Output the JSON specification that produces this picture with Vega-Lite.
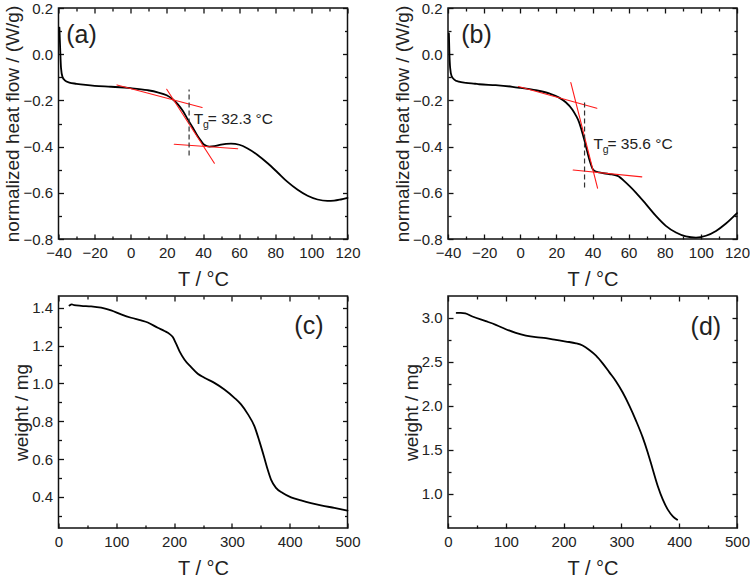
{
  "$schema": "https://vega.github.io/schema/vega-lite/v6.json",
  "background": "white",
  "padding": {"left": 2.5, "top": 0, "right": 0, "bottom": 0},
  "datasets": {
    "dsc_a": [
      {"T": -39.5, "q": 0.115}, {"T": -39.1, "q": 0.03}, {"T": -38.6, "q": -0.06}, {"T": -37.8, "q": -0.098},
      {"T": -36.5, "q": -0.113}, {"T": -34, "q": -0.123}, {"T": -30, "q": -0.128}, {"T": -25, "q": -0.133},
      {"T": -20, "q": -0.137}, {"T": -10.9, "q": -0.141}, {"T": 0, "q": -0.147}, {"T": 9.4, "q": -0.156},
      {"T": 14.9, "q": -0.165}, {"T": 19.9, "q": -0.178}, {"T": 23.2, "q": -0.195}, {"T": 26, "q": -0.216},
      {"T": 28.8, "q": -0.245}, {"T": 31.5, "q": -0.281}, {"T": 34.3, "q": -0.317}, {"T": 37, "q": -0.354},
      {"T": 38.9, "q": -0.375}, {"T": 40.7, "q": -0.392}, {"T": 43.5, "q": -0.4}, {"T": 46.3, "q": -0.398},
      {"T": 50, "q": -0.391}, {"T": 55.5, "q": -0.387}, {"T": 60.1, "q": -0.392}, {"T": 64.7, "q": -0.408},
      {"T": 70.2, "q": -0.436}, {"T": 75.8, "q": -0.472}, {"T": 81.3, "q": -0.512}, {"T": 86.8, "q": -0.553},
      {"T": 92.4, "q": -0.587}, {"T": 97.9, "q": -0.613}, {"T": 103.4, "q": -0.629}, {"T": 108.9, "q": -0.635},
      {"T": 112.6, "q": -0.634}, {"T": 116.3, "q": -0.629}, {"T": 120, "q": -0.622}
    ],
    "dsc_b": [
      {"T": -39.5, "q": 0.09}, {"T": -39.2, "q": 0.0}, {"T": -38.8, "q": -0.06}, {"T": -38.0, "q": -0.095},
      {"T": -36.5, "q": -0.11}, {"T": -34, "q": -0.119}, {"T": -30, "q": -0.124}, {"T": -25, "q": -0.128},
      {"T": -22.8, "q": -0.13}, {"T": -13.6, "q": -0.134}, {"T": -4.3, "q": -0.141}, {"T": 0.3, "q": -0.146},
      {"T": 8.6, "q": -0.156}, {"T": 16, "q": -0.17}, {"T": 21.5, "q": -0.188}, {"T": 25.2, "q": -0.208},
      {"T": 28.9, "q": -0.24}, {"T": 31.0, "q": -0.268}, {"T": 32.6, "q": -0.295}, {"T": 34.0, "q": -0.33},
      {"T": 35.6, "q": -0.375}, {"T": 37.2, "q": -0.425}, {"T": 38.7, "q": -0.468}, {"T": 39.9, "q": -0.494},
      {"T": 41.0, "q": -0.505}, {"T": 43.7, "q": -0.512}, {"T": 49.2, "q": -0.519}, {"T": 53.9, "q": -0.527},
      {"T": 58.5, "q": -0.556}, {"T": 64, "q": -0.599}, {"T": 69.6, "q": -0.649}, {"T": 75.1, "q": -0.7},
      {"T": 80.6, "q": -0.743}, {"T": 86.2, "q": -0.772}, {"T": 91.7, "q": -0.789}, {"T": 97.3, "q": -0.794},
      {"T": 102.8, "q": -0.786}, {"T": 108.4, "q": -0.765}, {"T": 113.9, "q": -0.733}, {"T": 120, "q": -0.688}
    ],
    "tga_c": [
      {"T": 19, "w": 1.412}, {"T": 23, "w": 1.418}, {"T": 27, "w": 1.414}, {"T": 39.2, "w": 1.41},
      {"T": 56.5, "w": 1.407}, {"T": 73.8, "w": 1.4}, {"T": 91, "w": 1.386}, {"T": 108.3, "w": 1.365},
      {"T": 125.6, "w": 1.347}, {"T": 142.9, "w": 1.333}, {"T": 154.5, "w": 1.322}, {"T": 171.7, "w": 1.294},
      {"T": 183.3, "w": 1.277}, {"T": 191.9, "w": 1.262}, {"T": 197.7, "w": 1.245}, {"T": 203.4, "w": 1.21},
      {"T": 209.2, "w": 1.171}, {"T": 217.8, "w": 1.127}, {"T": 229.4, "w": 1.086}, {"T": 240.9, "w": 1.051},
      {"T": 252.4, "w": 1.03}, {"T": 269.7, "w": 1.003}, {"T": 287, "w": 0.968}, {"T": 304.3, "w": 0.924},
      {"T": 315.8, "w": 0.889}, {"T": 327.3, "w": 0.839}, {"T": 338.9, "w": 0.774}, {"T": 347.5, "w": 0.695},
      {"T": 356.2, "w": 0.606}, {"T": 361.9, "w": 0.545}, {"T": 367.7, "w": 0.492}, {"T": 376.3, "w": 0.448},
      {"T": 387.9, "w": 0.421}, {"T": 402.3, "w": 0.398}, {"T": 419.6, "w": 0.382}, {"T": 436.8, "w": 0.368},
      {"T": 454.1, "w": 0.356}, {"T": 477.2, "w": 0.342}, {"T": 500, "w": 0.328}
    ],
    "tga_d": [
      {"T": 15, "w": 3.055}, {"T": 22, "w": 3.056}, {"T": 30, "w": 3.05}, {"T": 42.2, "w": 3.015},
      {"T": 65.3, "w": 2.962}, {"T": 82.7, "w": 2.92}, {"T": 100, "w": 2.87}, {"T": 117.3, "w": 2.829},
      {"T": 134.7, "w": 2.798}, {"T": 152, "w": 2.779}, {"T": 169.4, "w": 2.768}, {"T": 186.7, "w": 2.749},
      {"T": 204, "w": 2.73}, {"T": 221.4, "w": 2.71}, {"T": 232.9, "w": 2.684}, {"T": 244.5, "w": 2.634},
      {"T": 256.1, "w": 2.57}, {"T": 267.6, "w": 2.482}, {"T": 279.2, "w": 2.379}, {"T": 290.8, "w": 2.276},
      {"T": 302.3, "w": 2.15}, {"T": 313.9, "w": 1.998}, {"T": 325.4, "w": 1.827}, {"T": 337, "w": 1.636},
      {"T": 345.7, "w": 1.465}, {"T": 354.3, "w": 1.274}, {"T": 363, "w": 1.084}, {"T": 371.7, "w": 0.931},
      {"T": 380.3, "w": 0.817}, {"T": 389, "w": 0.741}, {"T": 396.5, "w": 0.703}
    ],
    "tangent_a": [
      {"seg": 1, "T": -7.6, "q": -0.133}, {"seg": 1, "T": 39.5, "q": -0.231},
      {"seg": 2, "T": 19.9, "q": -0.152}, {"seg": 2, "T": 46.3, "q": -0.472},
      {"seg": 3, "T": 24.1, "q": -0.39}, {"seg": 3, "T": 59.2, "q": -0.409}
    ],
    "tangent_b": [
      {"seg": 1, "T": -1.0, "q": -0.14}, {"seg": 1, "T": 42.4, "q": -0.234},
      {"seg": 2, "T": 28.0, "q": -0.123}, {"seg": 2, "T": 42.8, "q": -0.58},
      {"seg": 3, "T": 29.3, "q": -0.501}, {"seg": 3, "T": 67.3, "q": -0.531}
    ],
    "tg_a": [{"Tg": 32.3, "lo": -0.438, "hi": -0.153, "lx": 34.9, "ly": -0.302, "label": "= 32.3 °C"}],
    "tg_b": [{"Tg": 35.6, "lo": -0.577, "hi": -0.199, "lx": 40.5, "ly": -0.41, "label": "= 35.6 °C"}],
    "tag_a": [{"lx": -35.7, "ly": 0.047, "tag": "(a)"}],
    "tag_b": [{"lx": -32.7, "ly": 0.047, "tag": "(b)"}],
    "tag_c": [{"lx": 408, "ly": 1.26, "tag": "(c)"}],
    "tag_d": [{"lx": 419.7, "ly": 2.802, "tag": "(d)"}]
  },
  "columns": 2,
  "spacing": {"column": 30.5, "row": 4},
  "concat": [
    {
      "width": 289, "height": 231,
      "layer": [
        {
          "data": {"name": "dsc_a"},
          "mark": {"type": "line", "color": "#000", "strokeWidth": 1.8, "interpolate": "monotone"},
          "encoding": {
            "x": {"field": "T", "type": "quantitative", "scale": {"domain": [-40, 120], "nice": false, "zero": false},
              "axis": {"orient": "bottom", "title": "T / °C", "format": "d",
                "values": [-40, -30, -20, -10, 0, 10, 20, 30, 40, 50, 60, 70, 80, 90, 100, 110, 120],
                "labelExpr": "datum.value % 20 === 0 ? datum.label : ''",
                "tickSize": {"condition": {"test": "datum.value % 20 === 0", "value": -5}, "value": -3}}},
            "y": {"field": "q", "type": "quantitative", "scale": {"domain": [-0.8, 0.2], "nice": false, "zero": false},
              "axis": {"orient": "left", "title": "normalized heat flow / (W/g)", "format": ".1f",
                "values": [-0.8, -0.7, -0.6, -0.5, -0.4, -0.3, -0.2, -0.1, 0, 0.1, 0.2],
                "labelExpr": "abs(round(datum.value * 10)) % 2 === 0 ? datum.label : ''",
                "tickSize": {"condition": {"test": "abs(round(datum.value * 10)) % 2 === 0", "value": -5}, "value": -3}}}
          }
        },
        {
          "data": {"name": "dsc_a"},
          "mark": {"type": "line", "opacity": 0},
          "encoding": {
            "x": {"field": "T", "type": "quantitative", "scale": {"domain": [-40, 120], "nice": false, "zero": false},
              "axis": {"orient": "top", "title": null, "labels": false,
                "values": [-40, -30, -20, -10, 0, 10, 20, 30, 40, 50, 60, 70, 80, 90, 100, 110, 120],
                "tickSize": {"condition": {"test": "datum.value % 20 === 0", "value": -5}, "value": -3}}},
            "y": {"field": "q", "type": "quantitative", "scale": {"domain": [-0.8, 0.2], "nice": false, "zero": false},
              "axis": {"orient": "right", "title": null, "labels": false,
                "values": [-0.8, -0.7, -0.6, -0.5, -0.4, -0.3, -0.2, -0.1, 0, 0.1, 0.2],
                "tickSize": {"condition": {"test": "abs(round(datum.value * 10)) % 2 === 0", "value": -5}, "value": -3}}}
          }
        },
        {
          "data": {"name": "tangent_a"},
          "mark": {"type": "line", "color": "#ff1a1a", "strokeWidth": 1.1},
          "encoding": {
            "x": {"field": "T", "type": "quantitative", "axis": null},
            "y": {"field": "q", "type": "quantitative", "axis": null},
            "detail": {"field": "seg"}
          }
        },
        {
          "data": {"name": "tg_a"},
          "mark": {"type": "rule", "color": "#333", "strokeWidth": 1.2, "strokeDash": [5, 3]},
          "encoding": {
            "x": {"field": "Tg", "type": "quantitative", "axis": null},
            "y": {"field": "lo", "type": "quantitative", "axis": null},
            "y2": {"field": "hi"}
          }
        },
        {
          "data": {"name": "tg_a"},
          "mark": {"type": "text", "text": "T", "align": "left", "baseline": "alphabetic", "fontSize": 15.5, "font": "Liberation Sans", "color": "#222"},
          "encoding": {
            "x": {"field": "lx", "type": "quantitative", "axis": null},
            "y": {"field": "ly", "type": "quantitative", "axis": null}
          }
        },
        {
          "data": {"name": "tg_a"},
          "mark": {"type": "text", "text": "g", "align": "left", "baseline": "alphabetic", "fontSize": 10.5, "dx": 9.3, "dy": 4.3, "font": "Liberation Sans", "color": "#222"},
          "encoding": {
            "x": {"field": "lx", "type": "quantitative", "axis": null},
            "y": {"field": "ly", "type": "quantitative", "axis": null}
          }
        },
        {
          "data": {"name": "tg_a"},
          "mark": {"type": "text", "align": "left", "baseline": "alphabetic", "fontSize": 15.5, "dx": 14, "font": "Liberation Sans", "color": "#222"},
          "encoding": {
            "x": {"field": "lx", "type": "quantitative", "axis": null},
            "y": {"field": "ly", "type": "quantitative", "axis": null},
            "text": {"field": "label"}
          }
        },
        {
          "data": {"name": "tag_a"},
          "mark": {"type": "text", "align": "left", "baseline": "alphabetic", "fontSize": 25, "font": "Liberation Sans", "color": "#222"},
          "encoding": {
            "x": {"field": "lx", "type": "quantitative", "axis": null},
            "y": {"field": "ly", "type": "quantitative", "axis": null},
            "text": {"field": "tag"}
          }
        }
      ],
      "resolve": {"axis": {"x": "independent", "y": "independent"}}
    },
    {
      "width": 289, "height": 231,
      "layer": [
        {
          "data": {"name": "dsc_b"},
          "mark": {"type": "line", "color": "#000", "strokeWidth": 1.8, "interpolate": "monotone"},
          "encoding": {
            "x": {"field": "T", "type": "quantitative", "scale": {"domain": [-40, 120], "nice": false, "zero": false},
              "axis": {"orient": "bottom", "title": "T / °C", "format": "d",
                "values": [-40, -30, -20, -10, 0, 10, 20, 30, 40, 50, 60, 70, 80, 90, 100, 110, 120],
                "labelExpr": "datum.value % 20 === 0 ? datum.label : ''",
                "tickSize": {"condition": {"test": "datum.value % 20 === 0", "value": -5}, "value": -3}}},
            "y": {"field": "q", "type": "quantitative", "scale": {"domain": [-0.8, 0.2], "nice": false, "zero": false},
              "axis": {"orient": "left", "title": "normalized heat flow / (W/g)", "format": ".1f",
                "values": [-0.8, -0.7, -0.6, -0.5, -0.4, -0.3, -0.2, -0.1, 0, 0.1, 0.2],
                "labelExpr": "abs(round(datum.value * 10)) % 2 === 0 ? datum.label : ''",
                "tickSize": {"condition": {"test": "abs(round(datum.value * 10)) % 2 === 0", "value": -5}, "value": -3}}}
          }
        },
        {
          "data": {"name": "dsc_b"},
          "mark": {"type": "line", "opacity": 0},
          "encoding": {
            "x": {"field": "T", "type": "quantitative", "scale": {"domain": [-40, 120], "nice": false, "zero": false},
              "axis": {"orient": "top", "title": null, "labels": false,
                "values": [-40, -30, -20, -10, 0, 10, 20, 30, 40, 50, 60, 70, 80, 90, 100, 110, 120],
                "tickSize": {"condition": {"test": "datum.value % 20 === 0", "value": -5}, "value": -3}}},
            "y": {"field": "q", "type": "quantitative", "scale": {"domain": [-0.8, 0.2], "nice": false, "zero": false},
              "axis": {"orient": "right", "title": null, "labels": false,
                "values": [-0.8, -0.7, -0.6, -0.5, -0.4, -0.3, -0.2, -0.1, 0, 0.1, 0.2],
                "tickSize": {"condition": {"test": "abs(round(datum.value * 10)) % 2 === 0", "value": -5}, "value": -3}}}
          }
        },
        {
          "data": {"name": "tangent_b"},
          "mark": {"type": "line", "color": "#ff1a1a", "strokeWidth": 1.1},
          "encoding": {
            "x": {"field": "T", "type": "quantitative", "axis": null},
            "y": {"field": "q", "type": "quantitative", "axis": null},
            "detail": {"field": "seg"}
          }
        },
        {
          "data": {"name": "tg_b"},
          "mark": {"type": "rule", "color": "#333", "strokeWidth": 1.2, "strokeDash": [5, 3]},
          "encoding": {
            "x": {"field": "Tg", "type": "quantitative", "axis": null},
            "y": {"field": "lo", "type": "quantitative", "axis": null},
            "y2": {"field": "hi"}
          }
        },
        {
          "data": {"name": "tg_b"},
          "mark": {"type": "text", "text": "T", "align": "left", "baseline": "alphabetic", "fontSize": 15.5, "font": "Liberation Sans", "color": "#222"},
          "encoding": {
            "x": {"field": "lx", "type": "quantitative", "axis": null},
            "y": {"field": "ly", "type": "quantitative", "axis": null}
          }
        },
        {
          "data": {"name": "tg_b"},
          "mark": {"type": "text", "text": "g", "align": "left", "baseline": "alphabetic", "fontSize": 10.5, "dx": 9.3, "dy": 4.3, "font": "Liberation Sans", "color": "#222"},
          "encoding": {
            "x": {"field": "lx", "type": "quantitative", "axis": null},
            "y": {"field": "ly", "type": "quantitative", "axis": null}
          }
        },
        {
          "data": {"name": "tg_b"},
          "mark": {"type": "text", "align": "left", "baseline": "alphabetic", "fontSize": 15.5, "dx": 14, "font": "Liberation Sans", "color": "#222"},
          "encoding": {
            "x": {"field": "lx", "type": "quantitative", "axis": null},
            "y": {"field": "ly", "type": "quantitative", "axis": null},
            "text": {"field": "label"}
          }
        },
        {
          "data": {"name": "tag_b"},
          "mark": {"type": "text", "align": "left", "baseline": "alphabetic", "fontSize": 25, "font": "Liberation Sans", "color": "#222"},
          "encoding": {
            "x": {"field": "lx", "type": "quantitative", "axis": null},
            "y": {"field": "ly", "type": "quantitative", "axis": null},
            "text": {"field": "tag"}
          }
        }
      ],
      "resolve": {"axis": {"x": "independent", "y": "independent"}}
    },
    {
      "width": 289, "height": 232,
      "layer": [
        {
          "data": {"name": "tga_c"},
          "mark": {"type": "line", "color": "#000", "strokeWidth": 1.8, "interpolate": "monotone"},
          "encoding": {
            "x": {"field": "T", "type": "quantitative", "scale": {"domain": [0, 500], "nice": false, "zero": false},
              "axis": {"orient": "bottom", "title": "T / °C", "format": "d",
                "values": [0, 50, 100, 150, 200, 250, 300, 350, 400, 450, 500],
                "labelExpr": "datum.value % 100 === 0 ? datum.label : ''",
                "tickSize": {"condition": {"test": "datum.value % 100 === 0", "value": -5}, "value": -3}}},
            "y": {"field": "w", "type": "quantitative", "scale": {"domain": [0.236, 1.462], "nice": false, "zero": false},
              "axis": {"orient": "left", "title": "weight / mg", "format": ".1f",
                "values": [0.3, 0.4, 0.5, 0.6, 0.7, 0.8, 0.9, 1.0, 1.1, 1.2, 1.3, 1.4],
                "labelExpr": "abs(round(datum.value * 10)) % 2 === 0 ? datum.label : ''",
                "tickSize": {"condition": {"test": "abs(round(datum.value * 10)) % 2 === 0", "value": -5}, "value": -3}}}
          }
        },
        {
          "data": {"name": "tga_c"},
          "mark": {"type": "line", "opacity": 0},
          "encoding": {
            "x": {"field": "T", "type": "quantitative", "scale": {"domain": [0, 500], "nice": false, "zero": false},
              "axis": {"orient": "top", "title": null, "labels": false,
                "values": [0, 50, 100, 150, 200, 250, 300, 350, 400, 450, 500],
                "tickSize": {"condition": {"test": "datum.value % 100 === 0", "value": -5}, "value": -3}}},
            "y": {"field": "w", "type": "quantitative", "scale": {"domain": [0.236, 1.462], "nice": false, "zero": false},
              "axis": {"orient": "right", "title": null, "labels": false,
                "values": [0.3, 0.4, 0.5, 0.6, 0.7, 0.8, 0.9, 1.0, 1.1, 1.2, 1.3, 1.4],
                "tickSize": {"condition": {"test": "abs(round(datum.value * 10)) % 2 === 0", "value": -5}, "value": -3}}}
          }
        },
        {
          "data": {"name": "tag_c"},
          "mark": {"type": "text", "align": "left", "baseline": "alphabetic", "fontSize": 25, "font": "Liberation Sans", "color": "#222"},
          "encoding": {
            "x": {"field": "lx", "type": "quantitative", "axis": null},
            "y": {"field": "ly", "type": "quantitative", "axis": null},
            "text": {"field": "tag"}
          }
        }
      ],
      "resolve": {"axis": {"x": "independent", "y": "independent"}}
    },
    {
      "width": 289, "height": 232,
      "layer": [
        {
          "data": {"name": "tga_d"},
          "mark": {"type": "line", "color": "#000", "strokeWidth": 1.8, "interpolate": "monotone"},
          "encoding": {
            "x": {"field": "T", "type": "quantitative", "scale": {"domain": [0, 500], "nice": false, "zero": false},
              "axis": {"orient": "bottom", "title": "T / °C", "format": "d",
                "values": [0, 50, 100, 150, 200, 250, 300, 350, 400, 450, 500],
                "labelExpr": "datum.value % 100 === 0 ? datum.label : ''",
                "tickSize": {"condition": {"test": "datum.value % 100 === 0", "value": -5}, "value": -3}}},
            "y": {"field": "w", "type": "quantitative", "scale": {"domain": [0.608, 3.248], "nice": false, "zero": false},
              "axis": {"orient": "left", "title": "weight / mg", "format": ".1f",
                "values": [0.75, 1.0, 1.25, 1.5, 1.75, 2.0, 2.25, 2.5, 2.75, 3.0],
                "labelExpr": "round(datum.value * 4) % 2 === 0 ? datum.label : ''",
                "tickSize": {"condition": {"test": "round(datum.value * 4) % 2 === 0", "value": -5}, "value": -3}}}
          }
        },
        {
          "data": {"name": "tga_d"},
          "mark": {"type": "line", "opacity": 0},
          "encoding": {
            "x": {"field": "T", "type": "quantitative", "scale": {"domain": [0, 500], "nice": false, "zero": false},
              "axis": {"orient": "top", "title": null, "labels": false,
                "values": [0, 50, 100, 150, 200, 250, 300, 350, 400, 450, 500],
                "tickSize": {"condition": {"test": "datum.value % 100 === 0", "value": -5}, "value": -3}}},
            "y": {"field": "w", "type": "quantitative", "scale": {"domain": [0.608, 3.248], "nice": false, "zero": false},
              "axis": {"orient": "right", "title": null, "labels": false,
                "values": [0.75, 1.0, 1.25, 1.5, 1.75, 2.0, 2.25, 2.5, 2.75, 3.0],
                "tickSize": {"condition": {"test": "round(datum.value * 4) % 2 === 0", "value": -5}, "value": -3}}}
          }
        },
        {
          "data": {"name": "tag_d"},
          "mark": {"type": "text", "align": "left", "baseline": "alphabetic", "fontSize": 25, "font": "Liberation Sans", "color": "#222"},
          "encoding": {
            "x": {"field": "lx", "type": "quantitative", "axis": null},
            "y": {"field": "ly", "type": "quantitative", "axis": null},
            "text": {"field": "tag"}
          }
        }
      ],
      "resolve": {"axis": {"x": "independent", "y": "independent"}}
    }
  ],
  "config": {
    "font": "Liberation Sans",
    "view": {"stroke": "#111", "strokeWidth": 1.5},
    "axis": {
      "domain": false, "grid": false,
      "labelFont": "Liberation Sans", "labelFontSize": 15, "labelColor": "#222",
      "labelPadding": 11, "labelFlush": false, "labelOverlap": false, "labelBound": false,
      "titleFont": "Liberation Sans", "titleFontWeight": "normal", "titleColor": "#222",
      "tickColor": "#111", "tickWidth": 1.3
    },
    "axisX": {"titleFontSize": 20, "titlePadding": 7},
    "axisY": {"titleFontSize": 19, "titlePadding": 0},
    "line": {"strokeCap": "round", "strokeJoin": "round"}
  }
}
